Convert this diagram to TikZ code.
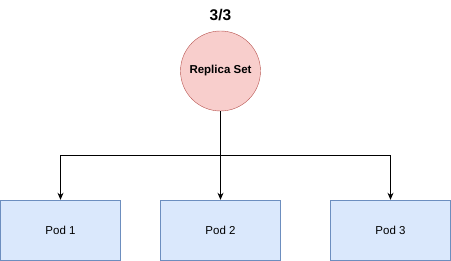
\documentclass[tikz,border=0pt]{standalone}
\usepackage{fontspec}
\setmainfont{Liberation Sans}
\usetikzlibrary{positioning,arrows.meta}
\definecolor{rsfill}{HTML}{F8CECC}
\definecolor{rsline}{HTML}{B85450}
\definecolor{podfill}{HTML}{DAE8FC}
\definecolor{podline}{HTML}{6C8EBF}
\tikzset{
  rs/.style={circle,draw=rsline,fill=rsfill,minimum size=80pt,inner sep=0pt,
    font=\fontsize{11.5}{13}\selectfont\bfseries},
  pod/.style={rectangle,draw=podline,fill=podfill,minimum width=120pt,minimum height=60pt,
    inner sep=0pt,font=\fontsize{11.5}{13}\selectfont},
  link/.style={-{Stealth[length=7pt,width=6pt]},line width=0.8pt},
}

\begin{document}
\begin{tikzpicture}[x=1pt,y=-1pt]
  \useasboundingbox (0,0) rectangle (451,261);
  \node[rs] (set) at (220.5,71) {Replica Set};
  \node[font=\fontsize{15.5}{17}\selectfont\bfseries] (count) at (220.5,15) {3/3};
  \node[pod] (pod1) at (60.5,230) {Pod 1};
  \node[pod] (pod2) at (220.5,230) {Pod 2};
  \node[pod] (pod3) at (390.5,230) {Pod 3};
  \coordinate (bus) at (220.5,155);
  \draw[link] (set.south) -- (bus) -| (pod1.north);
  \draw[link] (set.south) -- (pod2.north);
  \draw[link] (bus) -| (pod3.north);
\end{tikzpicture}
\end{document}
